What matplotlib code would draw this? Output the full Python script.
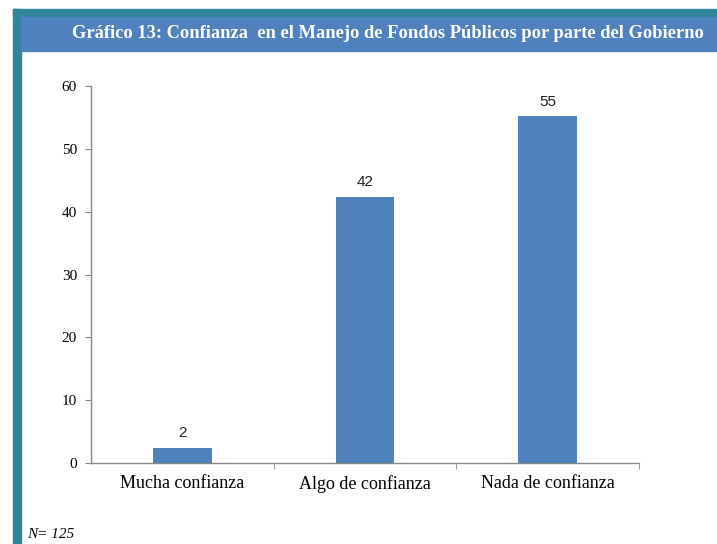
import numpy as np
import matplotlib.pyplot as plt
from matplotlib.patches import Rectangle

# data
categories = ["Mucha confianza", "Algo de confianza", "Nada de confianza"]
values = [2.4, 42.4, 55.2]
value_labels = ["2", "42", "55"]
y_ticks = [0, 10, 20, 30, 40, 50, 60]

title = "Gráfico 13: Confianza  en el Manejo de Fondos Públicos por parte del Gobierno"
note = "N= 125"

bar_color = "#4F81BD"
teal = "#31849B"
axis_gray = "#868686"

W, H = 717, 544
fig = plt.figure(figsize=(W / 100, H / 100), dpi=100)
fig.patch.set_facecolor("white")

# frame: teal strip on top and left, blue header band
fig.patches.append(Rectangle((13 / W, 0), 8 / W, 1 - 9 / H, transform=fig.transFigure,
                             color=teal, zorder=0))
fig.patches.append(Rectangle((13 / W, 1 - 17 / H), 1 - 13 / W, 8 / H, transform=fig.transFigure,
                             color=teal, zorder=0))
fig.patches.append(Rectangle((21 / W, 1 - 51 / H), 1 - 21 / W, 34 / H, transform=fig.transFigure,
                             color=bar_color, zorder=0))
fig.text(388 / W, 1 - 34 / H, title, color="white", fontsize=13.3, fontweight="bold",
         family="Liberation Serif", ha="center", va="center")
fig.text(27 / W, 1 - 535 / H, note, fontsize=11, style="italic",
         family="Liberation Serif", ha="left", va="center")

ax = fig.add_axes([91 / W, 1 - 463 / H, 548 / W, 377 / H])
x = np.arange(len(categories))
bars = ax.bar(x, values, width=0.32, color=bar_color, zorder=2)
for b, lab in zip(bars, value_labels):
    ax.text(b.get_x() + b.get_width() / 2, b.get_height() + 1.2, lab,
            ha="center", va="bottom", fontsize=11, family="Liberation Sans", color="#222222")

ax.set_xlim(-0.5, 2.5)
ax.set_ylim(0, 60)
ax.set_yticks(y_ticks)
ax.set_xticks(x)
ax.set_xticklabels(categories, family="Liberation Serif", fontsize=13)
ax.set_xticks([0.5, 1.5, 2.5], minor=True)
ax.tick_params(axis="x", which="major", length=0, pad=9)
ax.tick_params(axis="x", which="minor", length=4, color=axis_gray)
ax.tick_params(axis="y", length=4, color=axis_gray, labelsize=11, pad=6)
for t in ax.get_yticklabels():
    t.set_family("Liberation Serif")

for s in ["top", "right"]:
    ax.spines[s].set_visible(False)
for s in ["left", "bottom"]:
    ax.spines[s].set_color(axis_gray)
    ax.spines[s].set_linewidth(1)

fig.savefig("out.png", dpi=100)
